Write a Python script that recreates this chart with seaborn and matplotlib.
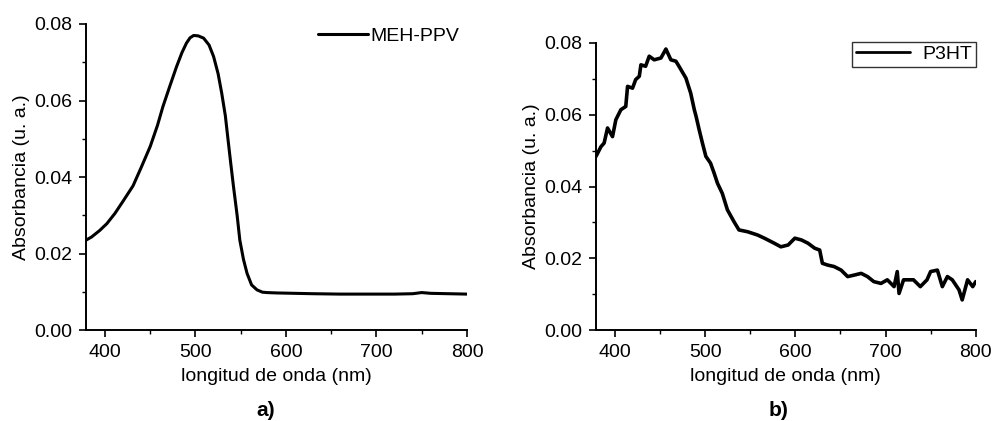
import matplotlib
matplotlib.use("Agg")
import matplotlib.pyplot as plt
import seaborn as sns
import pandas as pd
from matplotlib.ticker import MultipleLocator

# ---- data ----
meh_wl = [379, 385, 394, 402, 411, 420, 431, 440, 450, 458, 464, 472, 479, 485, 490,
          494, 498, 503, 509, 515, 520, 525, 529, 533, 536, 539, 542, 546, 549, 553,
          557, 562, 568, 574, 579, 590, 610, 630, 660, 690, 720, 740, 750, 760, 780, 800]
meh_abs = [0.0235, 0.0243, 0.0260, 0.0278, 0.0305, 0.0337, 0.0377, 0.0425, 0.0480, 0.0535,
           0.0584, 0.0640, 0.0688, 0.0725, 0.0750, 0.0764, 0.0770, 0.0769, 0.0763, 0.0745,
           0.0715, 0.0670, 0.0619, 0.0560, 0.0497, 0.0435, 0.0375, 0.0300, 0.0235, 0.0185,
           0.0148, 0.0118, 0.0105, 0.0099, 0.0098, 0.0097, 0.0096, 0.0095, 0.0094, 0.0094,
           0.0094, 0.0095, 0.0098, 0.0096, 0.0095, 0.0094]

p3ht_wl = [379, 384.5, 388, 391.8, 397.3, 401, 406.6, 412, 414, 419.5, 423, 427, 428.8,
           434, 438, 443.5, 451, 456.5, 462, 467.6, 471, 478.7, 484, 488, 490, 493.4, 497,
           500.8, 506, 510, 513.7, 519, 524.7, 532, 537.5, 547, 558, 565.7, 576.6, 584, 592,
           599.5, 606.8, 614, 621.5, 627, 630, 636, 643, 650.8, 658, 665, 673, 680, 687,
           695, 702, 709.5, 713, 715, 720, 731, 738.6, 746, 750, 757.5, 763, 768.6, 774,
           781.5, 785, 791, 796.7, 800]
p3ht_abs = [0.0484, 0.0511, 0.0521, 0.0563, 0.0539, 0.0586, 0.0614, 0.0623, 0.0679, 0.0674,
            0.0698, 0.0707, 0.0739, 0.0735, 0.0763, 0.0753, 0.0758, 0.0783, 0.0753, 0.0749,
            0.0735, 0.0702, 0.0660, 0.0614, 0.0595, 0.0558, 0.0521, 0.0484, 0.0465, 0.0437,
            0.0409, 0.0381, 0.0335, 0.0302, 0.0279, 0.0274, 0.0265, 0.0256, 0.0242, 0.0232,
            0.0237, 0.0256, 0.0251, 0.0242, 0.0228, 0.0223, 0.0186, 0.0181, 0.0177, 0.0167,
            0.0149, 0.0153, 0.0158, 0.0149, 0.0135, 0.0130, 0.0140, 0.0121, 0.0163, 0.0102,
            0.0140, 0.0140, 0.0121, 0.0140, 0.0163, 0.0167, 0.0121, 0.0149, 0.0140, 0.0112,
            0.0084, 0.0140, 0.0121, 0.0135]

x_ticks = [400, 500, 600, 700, 800]
y_ticks = [0.00, 0.02, 0.04, 0.06, 0.08]

sns.set_style("ticks")
plt.rcParams['font.family'] = ['Liberation Sans', 'DejaVu Sans']
plt.rcParams.update({
    'axes.linewidth': 1.4,
    'text.color': 'black',
    'axes.labelcolor': 'black',
    'xtick.color': 'black',
    'ytick.color': 'black',
    'axes.edgecolor': 'black',
})

fig = plt.figure(figsize=(9.94, 4.21), dpi=100)
ax1 = fig.add_axes([0.0865, 0.216, 0.3833, 0.727])
ax2 = fig.add_axes([0.5996, 0.216, 0.3820, 0.682])

df1 = pd.DataFrame({"wl": meh_wl, "A": meh_abs})
df2 = pd.DataFrame({"wl": p3ht_wl, "A": p3ht_abs})

sns.lineplot(data=df1, x="wl", y="A", ax=ax1, color="black", lw=2.2, label="MEH-PPV")
sns.lineplot(data=df2, x="wl", y="A", ax=ax2, color="black", lw=2.6, label="P3HT")

for ax in (ax1, ax2):
    ax.set_xlim(379, 800)
    ax.set_ylim(0, 0.08)
    ax.set_xticks(x_ticks)
    ax.set_yticks(y_ticks)
    ax.set_yticklabels([f"{v:.2f}" for v in y_ticks])
    ax.xaxis.set_minor_locator(MultipleLocator(50))
    ax.yaxis.set_minor_locator(MultipleLocator(0.01))
    ax.tick_params(which="major", direction="out", length=5, width=1.2, labelsize=14, pad=5)
    ax.tick_params(which="minor", direction="out", length=3, width=1.0)
    ax.set_xlabel("longitud de onda (nm)", fontsize=14, labelpad=5)
    ax.set_ylabel("Absorbancia (u. a.)", fontsize=14, labelpad=3)
    sns.despine(ax=ax)

leg1 = ax1.legend(loc="upper right", frameon=False, fontsize=14, handlelength=2.6,
                  handletextpad=0.1, borderaxespad=0.0, bbox_to_anchor=(1.0, 1.015))
leg2 = ax2.legend(loc="upper right", frameon=True, fontsize=14, handlelength=2.8,
                  handletextpad=0.6, borderaxespad=0.0, fancybox=False,
                  bbox_to_anchor=(1.0, 1.005), borderpad=0.2)
leg2.get_frame().set_edgecolor("black")
leg2.get_frame().set_linewidth(1.0)
for line in leg2.get_lines():
    line.set_linewidth(2.0)

fig.text(0.267, 0.026, "a)", fontsize=15, fontweight="bold", ha="center", va="center")
fig.text(0.783, 0.026, "b)", fontsize=15, fontweight="bold", ha="center", va="center")

fig.savefig("out.png", dpi=100)
